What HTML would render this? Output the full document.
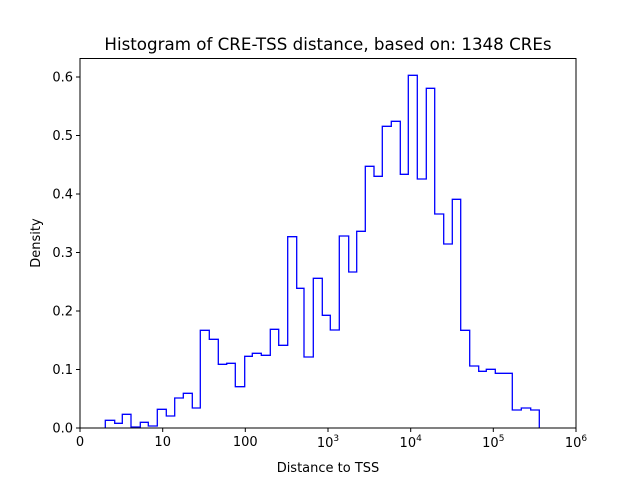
<!DOCTYPE html>
<html><head><style>body{margin:0;background:#fff}svg{display:block}text{font-family:"DejaVu Sans","Liberation Sans",sans-serif;fill:#000}</style></head><body>
<svg width="640" height="480" viewBox="0 0 640 480" xmlns="http://www.w3.org/2000/svg">
<rect width="640" height="480" fill="#fff"/>
<path fill="none" stroke="#0000ff" stroke-width="1.3" d="M105.3,428 V420.3 H114.7 V423.3 H122.3 V414.3 H131 V427 H140.3 V422.3 H148.3 V426 H157.3 V409.3 H166.3 V416 H174.7 V398 H183.3 V393.3 H192.3 V408 H200.3 V330.3 H209.3 V339.3 H218.3 V364.3 H226.7 V363.3 H235.3 V386.7 H244.7 V356.3 H252.3 V353.3 H261.3 V355.3 H270.3 V329.3 H278.7 V345.3 H287.7 V236.7 H296.7 V288.3 H304 V357 H313.3 V278.3 H322.3 V315.3 H330.3 V330 H339.3 V236 H348.7 V272 H356.7 V231.3 H365.3 V166.3 H374 V176.3 H382.3 V126.3 H391.3 V121.3 H400.3 V174.3 H408.3 V75.3 H417.3 V179 H426.3 V88.3 H434.7 V214 H443.7 V244 H452.3 V199.3 H460.7 V330.3 H469.7 V366 H478.7 V371.3 H486.3 V369.3 H495.3 V373.3 H512.3 V410 H521.3 V408 H530.7 V410 H539.3 V428"/>
<rect x="80" y="58.5" width="496" height="369.5" fill="none" stroke="#000" stroke-width="1"/>
<g stroke="#000" stroke-width="1">
<line x1="80" y1="428" x2="80" y2="432"/><line x1="162.7" y1="428" x2="162.7" y2="432"/><line x1="245.3" y1="428" x2="245.3" y2="432"/><line x1="328" y1="428" x2="328" y2="432"/><line x1="410.7" y1="428" x2="410.7" y2="432"/><line x1="493.3" y1="428" x2="493.3" y2="432"/><line x1="576" y1="428" x2="576" y2="432"/>
<line x1="76" y1="428" x2="80" y2="428"/><line x1="76" y1="369.5" x2="80" y2="369.5"/><line x1="76" y1="311" x2="80" y2="311"/><line x1="76" y1="252.5" x2="80" y2="252.5"/><line x1="76" y1="194" x2="80" y2="194"/><line x1="76" y1="135.5" x2="80" y2="135.5"/><line x1="76" y1="77" x2="80" y2="77"/>
</g>
<g font-size="13" text-anchor="middle">
<text x="80" y="446">0</text><text x="162.7" y="446">10</text><text x="245.3" y="446">100</text>
<text x="328" y="447">10<tspan font-size="9" dy="-6">3</tspan></text>
<text x="410.7" y="447">10<tspan font-size="9" dy="-6">4</tspan></text>
<text x="493.3" y="447">10<tspan font-size="9" dy="-6">5</tspan></text>
<text x="576" y="447">10<tspan font-size="9" dy="-6">6</tspan></text>
<text x="328" y="472">Distance to TSS</text>
</g>
<g font-size="13" text-anchor="end">
<text x="73" y="432.5">0.0</text><text x="73" y="374">0.1</text><text x="73" y="315.5">0.2</text><text x="73" y="257">0.3</text><text x="73" y="198.5">0.4</text><text x="73" y="140">0.5</text><text x="73" y="81.5">0.6</text>
</g>
<text x="40" y="243" font-size="13" text-anchor="middle" transform="rotate(-90 40 243)">Density</text>
<text x="328" y="50" font-size="16.7" text-anchor="middle">Histogram of CRE-TSS distance, based on: 1348 CREs</text>
</svg>
</body></html>
